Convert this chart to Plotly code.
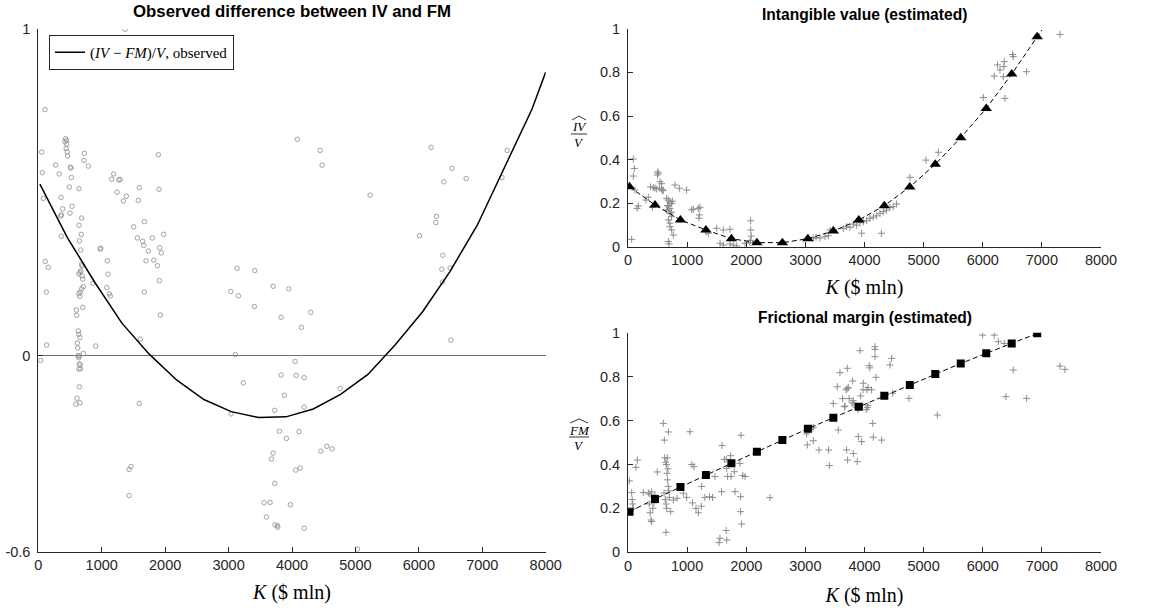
import plotly.graph_objects as go

# ---------------- data ----------------
# Left panel: observed (IV - FM)/V per firm
obs_k = [1369, 106, 53, 63, 79, 430, 445, 420, 448, 440, 455, 463, 274, 331, 505, 515, 521, 489, 642,
         358, 385, 532, 500, 353, 365, 684, 726, 721, 789, 1893, 1189, 1157, 1270, 1290, 1241, 1388, 1341,
         1577, 1593, 1904,
         642, 678, 363, 647, 669, 110, 158, 684, 690, 670, 655, 640, 690, 700, 710, 684, 660, 640, 655,
         126, 700, 600, 605, 631, 640, 655, 615, 621, 625, 645, 640, 710, 132, 38, 905, 645, 660, 640, 665,
         647, 610, 590, 658, 975, 985, 1088, 1099, 863, 1079, 1120, 1135, 1504, 1672, 1562, 1646, 1662,
         1798, 1977, 1914, 1940, 1735, 1699, 1820, 1877, 1909, 1672, 1924, 1609, 1593,
         3134, 3413, 3035, 3155, 3407, 3702, 3108, 3233,
         3949, 3828, 4296, 4149, 4049, 3828, 4065, 4191, 4759, 3880, 4191, 3039, 3728, 3801, 4112, 3912,
         3702, 3675, 4549, 4632, 4454, 4128, 4060, 3728, 3560, 3655, 3975, 3596, 3733, 3770, 3776, 4191,
         5032, 1431, 1462, 1431, 4084, 4443, 4475, 5232,
         6194, 7393, 6525, 6394, 6746, 7309, 6278, 6268, 6010, 6378, 6362, 6494, 6372, 6505]
obs_diff = [1.0, 0.754, 0.624, 0.561, 0.482, 0.665, 0.66, 0.655, 0.648, 0.635, 0.625, 0.612, 0.584, 0.557,
            0.578, 0.575, 0.546, 0.517, 0.512, 0.485, 0.45, 0.458, 0.437, 0.428, 0.432, 0.422, 0.62, 0.598,
            0.581, 0.616, 0.557, 0.541, 0.539, 0.54, 0.501, 0.489, 0.474, 0.476, 0.515, 0.51,
            0.4, 0.372, 0.366, 0.352, 0.324, 0.289, 0.271, 0.28, 0.275, 0.26, 0.255, 0.25, 0.245, 0.235,
            0.212, 0.205, 0.195, 0.19, 0.182, 0.195, 0.148, 0.14, 0.124, 0.076, 0.066, 0.056, 0.039, 0.024,
            0.0, 0.0, -0.006, 0.007, 0.033, -0.014, 0.03, -0.025, -0.028, -0.04, -0.04, -0.095, -0.13,
            -0.148, -0.144, 0.327, 0.329, 0.291, 0.25, 0.222, 0.209, 0.19, 0.183, 0.395, 0.411, 0.361,
            0.351, 0.338, 0.361, 0.372, 0.331, 0.315, 0.321, 0.291, 0.293, 0.276, 0.23, 0.195, 0.125,
            0.051, -0.146,
            0.268, 0.261, 0.197, 0.184, 0.151, 0.213, 0.004, -0.083,
            0.205, 0.118, 0.133, 0.087, -0.017, -0.059, -0.06, -0.067, -0.1, -0.121, -0.157, -0.178,
            -0.167, -0.231, -0.232, -0.253, -0.298, -0.316, -0.277, -0.285, -0.292, -0.344, -0.35, -0.391,
            -0.45, -0.449, -0.456, -0.494, -0.518, -0.52, -0.525, -0.528,
            -0.592, -0.348, -0.339, -0.428, 0.663, 0.629, 0.584, 0.492,
            0.638, 0.629, 0.574, 0.533, 0.543, 0.546, 0.427, 0.408, 0.368, 0.308, 0.265, 0.269, 0.226, 0.048]

# Left panel: fitted observed-difference curve
curve_k = [25, 456, 887, 1318, 1749, 2180, 2611, 3042, 3473, 3904, 4335, 4766, 5197, 5628, 6059, 6490,
           6921, 7352, 7783, 8000]
curve_diff = [0.526, 0.363, 0.226, 0.1, 0.005, -0.074, -0.134, -0.171, -0.189, -0.187, -0.163, -0.118,
              -0.057, 0.034, 0.135, 0.258, 0.4, 0.575, 0.755, 0.869]

# Right panels: estimation grid
grid_k = [25, 456, 887, 1318, 1749, 2180, 2611, 3042, 3473, 3904, 4335, 4766, 5197, 5628, 6059, 6490, 6921]
iv_hat = [0.276, 0.192, 0.124, 0.078, 0.038, 0.02, 0.02, 0.038, 0.073, 0.124, 0.189, 0.275, 0.379,
          0.501, 0.635, 0.792, 0.963]
fm_hat = [0.185, 0.243, 0.297, 0.352, 0.405, 0.458, 0.511, 0.563, 0.613, 0.663, 0.713, 0.762, 0.812,
          0.86, 0.906, 0.951, 0.997]
line_k = grid_k + [7000]
iv_line = iv_hat + [0.994]
fm_line = fm_hat + [1.005]

# Right top: intangible value per firm
iv_k = [90, 107, 90, 62, 152, 175, 118, 304, 344, 412, 383, 428, 457, 485, 530, 569, 597, 502, 513, 496,
        541, 569, 586, 795, 868, 992, 654, 682, 710, 738, 682, 710, 682, 710, 738, 682, 710, 710, 738, 766,
        682, 696, 654, 738, 752, 668, 1077, 1105, 1189, 1217, 1206, 1200, 1319, 1359, 1500, 1612, 1556,
        1612, 1725, 1781, 1838, 1725, 2075, 2075, 2085, 2070, 2060, 1979,
        3134, 3180, 3247, 3332, 3388, 3416, 3472, 3641, 3698, 3754, 3811, 3867, 3923, 3980, 4036, 4092,
        4149, 4205, 4262, 4318, 4374, 4431, 4487, 4543, 3951, 4286,
        4769, 5040, 5248, 6009, 6195, 6251, 6291, 6364, 6358, 6347, 6375, 6505, 6516, 6742, 7306]
iv_obs = [0.403, 0.36, 0.325, 0.035, 0.177, 0.188, 0.261, 0.215, 0.228, 0.182, 0.275, 0.272, 0.27, 0.266,
          0.27, 0.265, 0.26, 0.344, 0.338, 0.33, 0.299, 0.29, 0.258, 0.284, 0.269, 0.261, 0.223, 0.215,
          0.207, 0.2, 0.188, 0.177, 0.166, 0.154, 0.139, 0.124, 0.109, 0.093, 0.078, 0.055, 0.025, 0.014,
          0.17, 0.16, 0.21, 0.19, 0.17, 0.173, 0.177, 0.182, 0.147, 0.132, 0.07, 0.063, 0.086, 0.078, 0.017,
          0.009, 0.014, 0.009, 0.005, 0.081, 0.12, 0.078, 0.05, 0.03, 0.02, 0.017,
          0.04, 0.044, 0.041, 0.047, 0.052, 0.078, 0.081, 0.084, 0.093, 0.09, 0.105, 0.1, 0.111, 0.116,
          0.121, 0.131, 0.137, 0.143, 0.154, 0.162, 0.169, 0.181, 0.185, 0.197, 0.063, 0.063,
          0.319, 0.398, 0.434, 0.685, 0.783, 0.834, 0.811, 0.849, 0.826, 0.78, 0.681, 0.882, 0.872, 0.803,
          0.974]

# Right bottom: frictional margin per firm
fm_k = [23, 62, 70, 80, 90, 135, 158, 259, 344, 370, 400, 360, 375, 390, 400, 420, 440, 455, 496, 598,
        614, 620, 640, 650, 660, 670, 680, 690, 700, 610, 630, 645, 655, 665, 675, 643, 682, 721, 767, 830,
        936, 992, 1048, 1080, 1116, 1090, 1150, 1190, 1240, 1246, 1300, 1380, 1430, 1471, 1590, 1584,
        1630, 1660, 1669, 1685, 1540, 1555, 1660, 1670, 1736, 1742, 1798, 1810, 1894, 1911, 1905, 1905,
        1922, 1940, 1980, 2401,
        3021, 3033, 3080, 3135, 3110, 3134, 3230, 3393, 3405, 3472, 3540, 3557, 3585, 3630, 3660, 3670,
        3687, 3706, 3726, 3698, 3709, 3715, 3740, 3790, 3810, 3830, 3800, 3860, 3890, 3811, 3878, 3895,
        3923, 3935, 3951, 3980, 3975, 4030, 4050, 4060, 4040, 4060, 4090, 4080, 4120, 4138, 4149, 4177,
        4180, 4177, 4194, 4290, 4431, 4459, 4476, 4752, 5231,
        5998, 6195, 6263, 6364, 6392, 6516, 6742, 7306, 7390]
fm_obs = [0.325, 0.272, 0.24, 0.22, 0.2, 0.387, 0.42, 0.272, 0.27, 0.265, 0.275, 0.22, 0.18, 0.147, 0.14,
          0.2, 0.225, 0.26, 0.366, 0.587, 0.511, 0.43, 0.41, 0.4, 0.36, 0.33, 0.3, 0.28, 0.25, 0.27, 0.24,
          0.22, 0.2, 0.43, 0.38, 0.091, 0.548, 0.185, 0.238, 0.246, 0.269, 0.25, 0.549, 0.4, 0.39, 0.225,
          0.2, 0.18, 0.21, 0.3, 0.25, 0.253, 0.25, 0.345, 0.486, 0.276, 0.423, 0.423, 0.382, 0.345, 0.044,
          0.064, 0.099, 0.056, 0.44, 0.345, 0.367, 0.276, 0.405, 0.533, 0.253, 0.185, 0.129, 0.35, 0.345,
          0.249,
          0.539, 0.489, 0.56, 0.57, 0.565, 0.508, 0.466, 0.466, 0.395, 0.678, 0.754, 0.557, 0.818, 0.7,
          0.663, 0.666, 0.74, 0.745, 0.75, 0.466, 0.838, 0.42, 0.7, 0.68, 0.69, 0.67, 0.78, 0.66, 0.65,
          0.45, 0.413, 0.527, 0.918, 0.712, 0.504, 0.77, 0.74, 0.65, 0.66, 0.67, 0.74, 0.75, 0.84, 0.85,
          0.74, 0.587, 0.524, 0.936, 0.924, 0.891, 0.797, 0.511, 0.853, 0.883, 0.724, 0.701, 0.625,
          0.989, 0.989, 0.959, 0.951, 0.709, 0.83, 0.701, 0.848, 0.833]

x_ticks = [0, 1000, 2000, 3000, 4000, 5000, 6000, 7000, 8000]
left_y_ticks = [-0.6, 0, 1]
left_y_text = ["-0.6", "0", "1"]
right_y_ticks = [0, 0.2, 0.4, 0.6, 0.8, 1]
right_y_text = ["0", "0.2", "0.4", "0.6", "0.8", "1"]

# ---------------- figure ----------------
W, H = 1159, 610
AX = "#262626"
GRAY = "#8c8c8c"
SANS = "Liberation Sans, Arial, sans-serif"
SERIF = "Liberation Serif, Times New Roman, serif"


def px(xp):
    return xp / W


def py(yp):
    return 1 - yp / H


fig = go.Figure()

fig.add_trace(go.Scatter(x=obs_k, y=obs_diff, mode="markers", xaxis="x", yaxis="y", showlegend=False,
                         marker=dict(symbol="circle-open", size=4.5, color=GRAY, line=dict(width=0.8))))
fig.add_trace(go.Scatter(x=curve_k, y=curve_diff, mode="lines", xaxis="x", yaxis="y",
                         name="(<i>IV</i> − <i>FM</i>)/<i>V</i>, observed",
                         line=dict(color="black", width=1.5)))

fig.add_trace(go.Scatter(x=iv_k, y=iv_obs, mode="markers", xaxis="x2", yaxis="y2", showlegend=False,
                         marker=dict(symbol="cross-thin-open", size=5, color=GRAY, line=dict(width=1, color=GRAY))))
fig.add_trace(go.Scatter(x=line_k, y=iv_line, mode="lines", xaxis="x2", yaxis="y2", showlegend=False,
                         line=dict(color="black", width=1, dash="5px,3px")))
fig.add_trace(go.Scatter(x=grid_k, y=iv_hat, mode="markers", xaxis="x2", yaxis="y2", showlegend=False,
                         marker=dict(symbol="triangle-up", size=10, color="black")))

fig.add_trace(go.Scatter(x=fm_k, y=fm_obs, mode="markers", xaxis="x3", yaxis="y3", showlegend=False,
                         marker=dict(symbol="cross-thin-open", size=5, color=GRAY, line=dict(width=1, color=GRAY))))
fig.add_trace(go.Scatter(x=line_k, y=fm_line, mode="lines", xaxis="x3", yaxis="y3", showlegend=False,
                         line=dict(color="black", width=1, dash="5px,3px")))
fig.add_trace(go.Scatter(x=grid_k, y=fm_hat, mode="markers", xaxis="x3", yaxis="y3", showlegend=False,
                         marker=dict(symbol="square", size=8, color="black")))

common_axis = dict(showline=True, linecolor=AX, linewidth=1, ticks="inside", ticklen=5, tickcolor=AX,
                   tickwidth=1, showgrid=False, tickfont=dict(family=SANS, size=14.5, color=AX),
                   automargin=False)
xtitle = dict(text="<i>K</i> ($ mln)", font=dict(family=SERIF, size=20, color="black"))

fig.update_layout(
    width=W, height=H, margin=dict(l=0, r=0, t=0, b=0),
    paper_bgcolor="white", plot_bgcolor="white",
    showlegend=True,
    legend=dict(x=px(49), y=py(35), xanchor="left", yanchor="top", bordercolor=AX, borderwidth=1,
                bgcolor="white", font=dict(family=SERIF, size=15, color="black"),
                itemwidth=30, tracegroupgap=0),
    xaxis=dict(domain=[px(38.3), px(545.7)], range=[0, 8000], anchor="y", tickvals=x_ticks,
               zeroline=False, title=dict(xtitle, standoff=12), **common_axis),
    yaxis=dict(domain=[py(551.7), py(29.3)], range=[-0.6, 1], anchor="x", tickvals=left_y_ticks,
               ticktext=left_y_text, zeroline=True, zerolinecolor="#707070", zerolinewidth=1,
               ticklabelstandoff=4, **common_axis),
    xaxis2=dict(domain=[px(628), px(1101)], range=[0, 8000], anchor="y2", tickvals=x_ticks,
                zeroline=False, title=dict(xtitle, standoff=12), **common_axis),
    yaxis2=dict(domain=[py(247), py(28.7)], range=[0, 1], anchor="x2", tickvals=right_y_ticks,
                ticktext=right_y_text, zeroline=False, ticklabelstandoff=4, **common_axis),
    xaxis3=dict(domain=[px(628), px(1101)], range=[0, 8000], anchor="y3", tickvals=x_ticks,
                zeroline=False, title=dict(xtitle, standoff=15), **common_axis),
    yaxis3=dict(domain=[py(552.3), py(332.7)], range=[0, 1], anchor="x3", tickvals=right_y_ticks,
                ticktext=right_y_text, zeroline=False, ticklabelstandoff=4, **common_axis),
)

# Subplot titles
for text, cx, cy, sz in [("Observed difference between IV and FM", 292, 12, 16.8),
                         ("Intangible value (estimated)", 864.5, 14, 15.6),
                         ("Frictional margin (estimated)", 864.5, 317, 15.6)]:
    fig.add_annotation(text=f"<b>{text}</b>", x=px(cx), y=py(cy), xref="paper", yref="paper",
                       xanchor="center", yanchor="middle", showarrow=False,
                       font=dict(family=SANS, size=sz, color="black"))


# Fraction y-labels  (hat{num} / V)
def frac_label(num, cx, cy, half):
    fig.add_annotation(text=f"<i>{num}</i>", x=px(cx), y=py(cy - 7), xref="paper", yref="paper",
                       xanchor="center", yanchor="middle", showarrow=False,
                       font=dict(family=SERIF, size=13, color="black"))
    fig.add_annotation(text="<i>V</i>", x=px(cx), y=py(cy + 8), xref="paper", yref="paper",
                       xanchor="center", yanchor="middle", showarrow=False,
                       font=dict(family=SERIF, size=13, color="black"))
    fig.add_shape(type="line", xref="paper", yref="paper", x0=px(cx - half), x1=px(cx + half),
                  y0=py(cy), y1=py(cy), line=dict(color="black", width=0.8))
    fig.add_shape(type="path", xref="paper", yref="paper",
                  path=f"M {px(cx - half + 1)},{py(cy - 14)} L {px(cx)},{py(cy - 18)} L {px(cx + half - 1)},{py(cy - 14)}",
                  line=dict(color="black", width=0.8))


frac_label("IV", 579, 134, 8)
frac_label("FM", 579, 437, 10)

fig.write_html("out.html")
